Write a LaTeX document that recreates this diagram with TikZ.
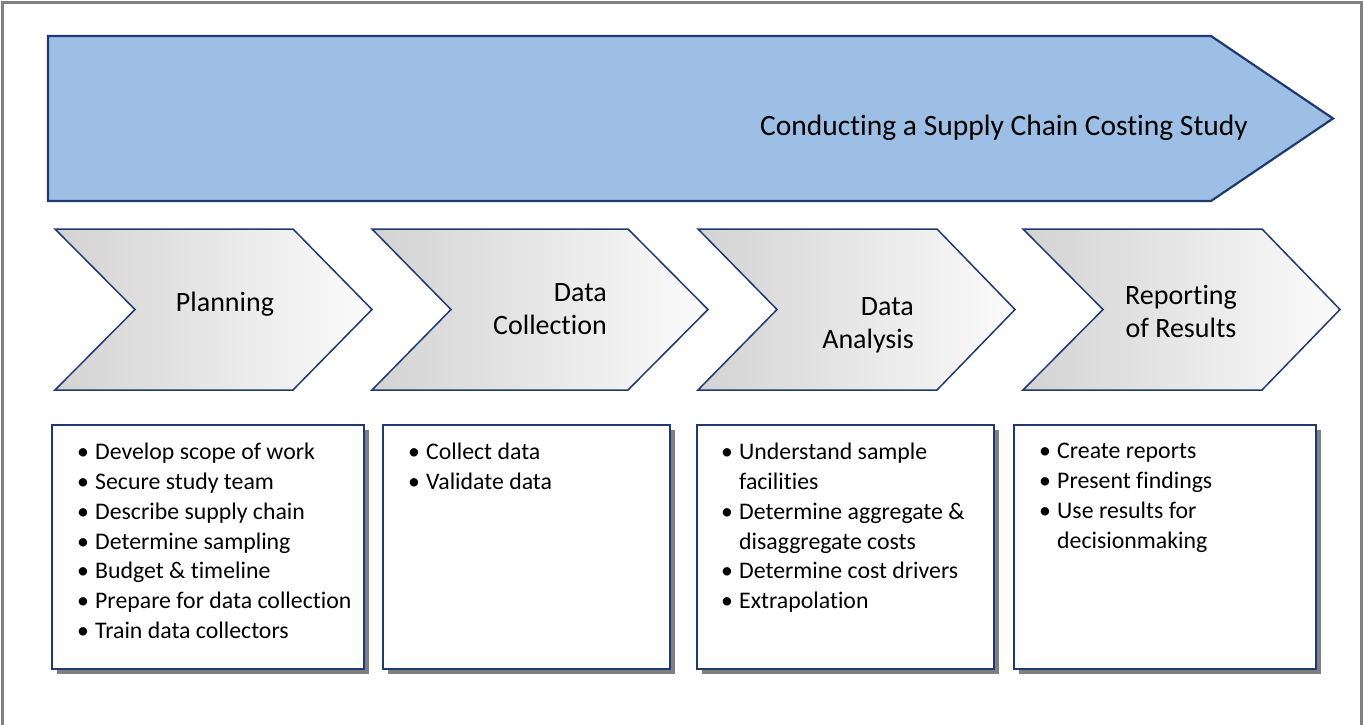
\documentclass[tikz,border=0pt]{standalone}
\usepackage{fontspec}
\setmainfont{Carlito}[Ligatures=NoCommon]
\usetikzlibrary{shadows}
\definecolor{navy}{HTML}{1F3A6E}
\definecolor{skyfill}{HTML}{9DBFE5}
\definecolor{frameg}{HTML}{808080}
\definecolor{chevL}{HTML}{D3D3D3}
\definecolor{chevR}{HTML}{FBFBFB}
\newcommand{\bul}{\makebox[18pt][l]{\textbullet}}
\newcommand{\ind}{\hspace*{18pt}}
\tikzset{
  bigarrow/.style={draw=navy, line width=2.2pt, fill=skyfill, line join=miter},
  chev/.style={draw=navy, line width=1.5pt, left color=chevL, right color=chevR, line join=miter},
  listbox/.style={draw=navy, line width=2.2pt, fill=white, anchor=north west, inner sep=0pt,
    minimum height=244pt, drop shadow={shadow xshift=5pt, shadow yshift=-5pt, fill=frameg, opacity=1}},
  listtext/.style={anchor=north west, inner sep=0pt, align=left, font=\fontsize{23.8}{29.8}\selectfont},
  label/.style={inner sep=0pt, font=\fontsize{28}{33}\selectfont}
}
\begin{document}
\begin{tikzpicture}[x=1pt,y=-1pt]
\useasboundingbox (0,0) rectangle (1363,725);
% outer frame
\draw[frameg, line width=3pt] (2.5,725) -- (2.5,2.5) -- (1361.5,2.5) -- (1361.5,725);
% top arrow
\draw[bigarrow] (48,36) -- (1211,36) -- (1333,118.5) -- (1211,201) -- (48,201) -- cycle;
\node[label, font=\fontsize{29.5}{33}\selectfont] (title) at (1004,128) {Conducting a Supply Chain Costing Study};
% chevrons
\draw[chev] (55,229) -- (293,229) -- (372,309.5) -- (293,390) -- (55,390) -- (135,309.5) -- cycle;
\draw[chev] (372,229) -- (628,229) -- (708,309.5) -- (628,390) -- (372,390) -- (451,309.5) -- cycle;
\draw[chev] (698,229) -- (937,229) -- (1015,309.5) -- (937,390) -- (698,390) -- (777,309.5) -- cycle;
\draw[chev] (1023,229) -- (1262,229) -- (1340,309.5) -- (1262,390) -- (1023,390) -- (1103,309.5) -- cycle;
\node[label] (planning) at (225,304) {Planning};
\node[label, align=right, anchor=east] (collection) at (607,309) {Data\\Collection};
\node[label, align=right, anchor=east] (analysis) at (914,325) {Data\\Analysis};
\node[label, align=center] (reporting) at (1181,311) {Reporting\\of Results};
% boxes
\node[listbox, minimum width=312pt] (b1) at (51,424) {};
\node[listbox, minimum width=287pt] (b2) at (382,424) {};
\node[listbox, minimum width=297pt] (b3) at (696,424) {};
\node[listbox, minimum width=302pt] (b4) at (1013,424) {};
\node[listtext] (t1) at (77,443) {\bul Develop scope of work\\\bul Secure study team\\\bul Describe supply chain\\\bul Determine sampling\\\bul Budget \& timeline\\\bul Prepare for data collection\\\bul Train data collectors};
\node[listtext] (t2) at (408,443) {\bul Collect data\\\bul Validate data};
\node[listtext] (t3) at (721,443) {\bul Understand sample\\\ind facilities\\\bul Determine aggregate \&\\\ind disaggregate costs\\\bul Determine cost drivers\\\bul Extrapolation};
\node[listtext] (t4) at (1039,443) {\bul Create reports\\\bul Present findings\\\bul Use results for\\\ind decisionmaking};
\end{tikzpicture}
\end{document}
